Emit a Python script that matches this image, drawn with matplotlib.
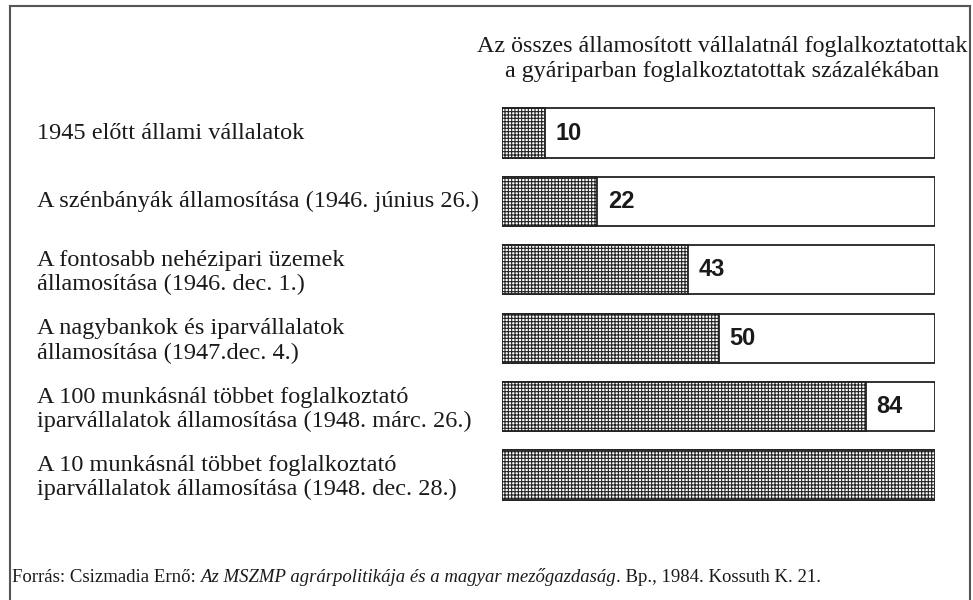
import matplotlib
matplotlib.use('Agg')
import matplotlib.pyplot as plt
from matplotlib.lines import Line2D
from matplotlib.transforms import blended_transform_factory

plt.rcParams['hatch.linewidth'] = 0.8

labels = ['1945 előtt állami vállalatok',
          'A szénbányák államosítása (1946. június 26.)',
          'A fontosabb nehézipari üzemek\nállamosítása (1946. dec. 1.)',
          'A nagybankok és iparvállalatok\nállamosítása (1947.dec. 4.)',
          'A 100 munkásnál többet foglalkoztató\niparvállalatok államosítása (1948. márc. 26.)',
          'A 10 munkásnál többet foglalkoztató\niparvállalatok államosítása (1948. dec. 28.)']
values = [10, 22, 43, 50, 84, 100]
value_text = ['10', '22', '43', '50', '84', '']
title = 'Az összes államosított vállalatnál foglalkoztatottak\na gyáriparban foglalkoztatottak százalékában'

serif = 'Liberation Serif'
sans = 'Liberation Sans'
ink = '#1a1a1a'

fig = plt.figure(figsize=(9.73, 6.0), dpi=100)
ax = fig.add_axes([502/973, 1 - 509.2/600, 433/973, 410.4/600])

pos = list(range(len(values)))
h = 0.72
# white full-length frame, then hatched filled part
ax.barh(pos, [100]*len(values), height=h, color='white', edgecolor='#222222', lw=1.3)
ax.barh(pos, values, height=h, color='white', edgecolor='#222222', lw=1.3, hatch='+++++')
ax.set_xlim(0, 100)
ax.set_ylim(5.5, -0.5)
ax.axis('off')

for i, (v, t) in enumerate(zip(values, value_text)):
    if t:
        ax.text(v + 2.4, i, t, fontsize=17, fontweight='bold', family=sans,
                va='center', ha='left', color=ink)

tr = blended_transform_factory(fig.transFigure, ax.transData)
for i, lab in enumerate(labels):
    dy = 0.04 if '\n' in lab else 0
    ax.text(37/973, i + dy, lab, transform=tr, fontsize=17.5, family=serif,
            va='center', ha='left', linespacing=1.2, color=ink)

fig.text(722/973, 1 - 59/600, title, fontsize=17.3, family=serif, ha='center',
         va='center', multialignment='center', linespacing=1.3, color=ink)

# footnote with italic book title
fs = 13.5
t1 = fig.text(12/973, 1 - 586/600, 'Forrás: Csizmadia Ernő: ', fontsize=fs,
              family=serif, ha='left', va='bottom', color=ink)
t2 = fig.text(0, 0, 'Az MSZMP agrárpolitikája és a magyar mezőgazdaság', fontsize=fs,
              family=serif, style='italic', va='bottom', color=ink)
t3 = fig.text(0, 0, '. Bp., 1984. Kossuth K. 21.', fontsize=fs, family=serif,
              va='bottom', color=ink)
fig.canvas.draw()
r = fig.canvas.get_renderer()
bb = t1.get_window_extent(r)
t2.set_position((bb.x1 / fig.bbox.width, bb.y0 / fig.bbox.height))
fig.canvas.draw()
bb = t2.get_window_extent(r)
t3.set_position((bb.x1 / fig.bbox.width, bb.y0 / fig.bbox.height))

# outer frame: left, top, right
fx0, fx1, fy0 = 10/973, 970/973, 1 - 6/600
for xs, ys in [([fx0, fx0], [0, fy0]), ([fx0, fx1], [fy0, fy0]), ([fx1, fx1], [fy0, 0])]:
    fig.add_artist(Line2D(xs, ys, transform=fig.transFigure, color='#555555', lw=1.5))

plt.savefig('out.png', dpi=100)
